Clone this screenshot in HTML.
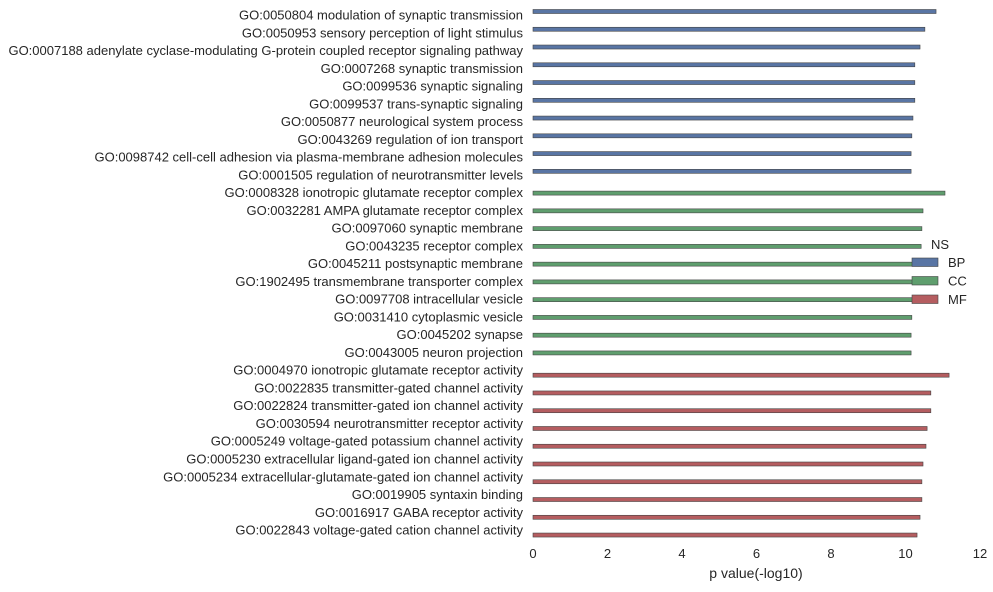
<!DOCTYPE html>
<html><head><meta charset="utf-8"><style>
body{margin:0;background:#fff;font-family:"Liberation Sans",sans-serif}
svg text{font-family:"Liberation Sans",sans-serif;fill:#262626}
</style></head><body>
<svg id="chart" width="993" height="587" xmlns="http://www.w3.org/2000/svg"></svg>
<script>
const categories=["GO:0050804 modulation of synaptic transmission","GO:0050953 sensory perception of light stimulus","GO:0007188 adenylate cyclase-modulating G-protein coupled receptor signaling pathway","GO:0007268 synaptic transmission","GO:0099536 synaptic signaling","GO:0099537 trans-synaptic signaling","GO:0050877 neurological system process","GO:0043269 regulation of ion transport","GO:0098742 cell-cell adhesion via plasma-membrane adhesion molecules","GO:0001505 regulation of neurotransmitter levels","GO:0008328 ionotropic glutamate receptor complex","GO:0032281 AMPA glutamate receptor complex","GO:0097060 synaptic membrane","GO:0043235 receptor complex","GO:0045211 postsynaptic membrane","GO:1902495 transmembrane transporter complex","GO:0097708 intracellular vesicle","GO:0031410 cytoplasmic vesicle","GO:0045202 synapse","GO:0043005 neuron projection","GO:0004970 ionotropic glutamate receptor activity","GO:0022835 transmitter-gated channel activity","GO:0022824 transmitter-gated ion channel activity","GO:0030594 neurotransmitter receptor activity","GO:0005249 voltage-gated potassium channel activity","GO:0005230 extracellular ligand-gated ion channel activity","GO:0005234 extracellular-glutamate-gated ion channel activity","GO:0019905 syntaxin binding","GO:0016917 GABA receptor activity","GO:0022843 voltage-gated cation channel activity"];
const values=[10.82,10.52,10.39,10.25,10.25,10.25,10.2,10.17,10.15,10.15,11.06,10.47,10.44,10.42,10.35,10.3,10.25,10.17,10.15,10.15,11.17,10.68,10.68,10.58,10.55,10.47,10.44,10.44,10.39,10.31];
const groups=["BP","BP","BP","BP","BP","BP","BP","BP","BP","BP","CC","CC","CC","CC","CC","CC","CC","CC","CC","CC","MF","MF","MF","MF","MF","MF","MF","MF","MF","MF"];
const xTicks=[0,2,4,6,8,10,12];
const legendLabels=["BP","CC","MF"];
const colors={BP:"#5975a4",CC:"#5f9e6e",MF:"#b55d60"};
const svg=document.getElementById('chart');
const NS="http://www.w3.org/2000/svg";
const x0=533,x1=980,xmax=12;
const xScale=v=>x0+(v/xmax)*(x1-x0);
const labelY=i=>15+i*17.76;
const barOffset={BP:-3.5,CC:0.5,MF:5};
function mk(tag,attrs){const e=document.createElementNS(NS,tag);for(const k in attrs)e.setAttribute(k,attrs[k]);svg.appendChild(e);return e;}
categories.forEach((c,i)=>{
  const t=mk('text',{x:523,y:labelY(i)+4.5,'text-anchor':'end','font-size':13});
  t.textContent=c;
  
  
  const g=groups[i];
  const cy=labelY(i)+barOffset[g];
  const r=mk('rect',{x:x0,y:cy-2,width:xScale(values[i])-x0,height:4,fill:colors[g],stroke:'#444',"stroke-width":0.6});
  
  
});
xTicks.forEach(v=>{
  const t=mk('text',{x:xScale(v),y:558,'text-anchor':'middle','font-size':13});
  t.textContent=v;
  
  
});
const xt=mk('text',{x:756,y:578,'text-anchor':'middle','font-size':14});
xt.textContent='p value(-log10)';


const lt=mk('text',{x:931,y:249,'font-size':13});
lt.textContent='NS';


legendLabels.forEach((l,i)=>{
  const y=258+i*18.5;
  const r=mk('rect',{x:912,y:y,width:26,height:8.5,fill:colors[l],stroke:'#444',"stroke-width":0.6});
  
  
  const t=mk('text',{x:948,y:y+9,'font-size':13});
  t.textContent=l;
  
  
});
</script>
</body></html>
